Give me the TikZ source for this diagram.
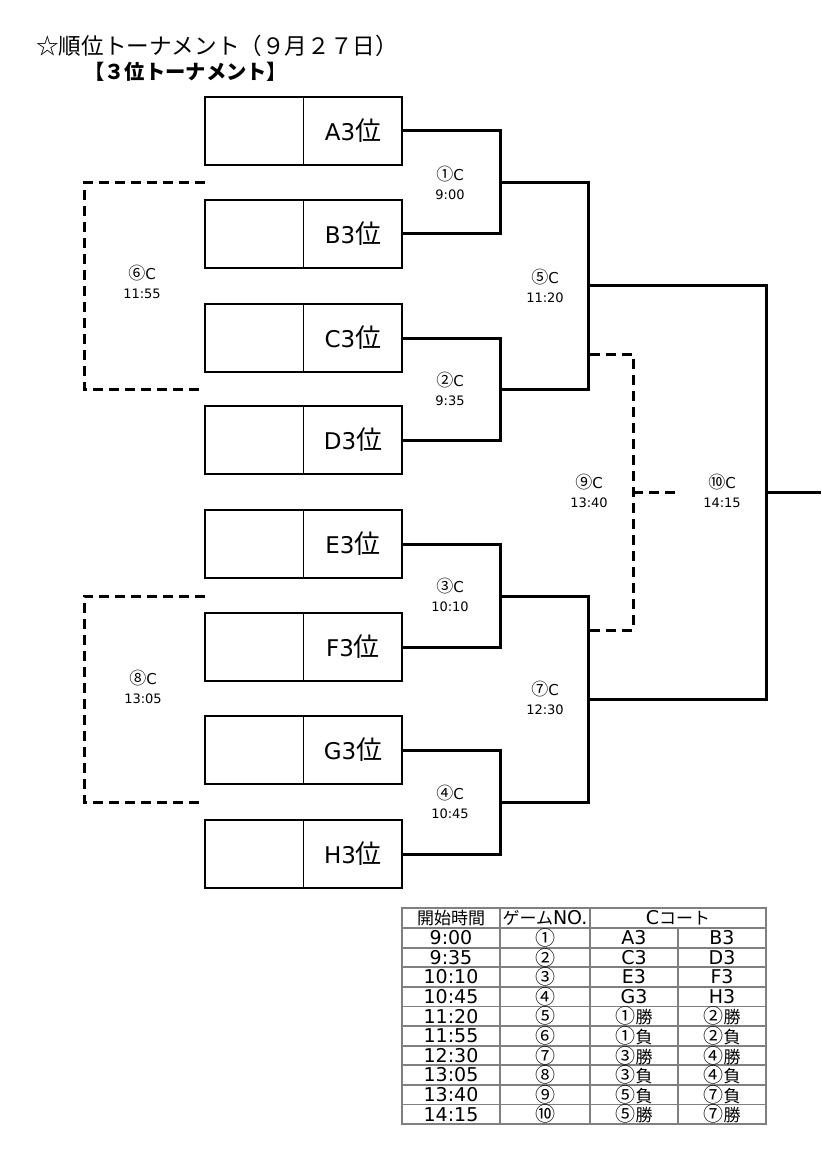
\documentclass[tikz,border=0pt]{standalone}
\usepackage{fontspec}
\setmainfont{DejaVu Sans}
\newfontfamily\jp{Noto Sans CJK JP}
\begin{document}
\begin{tikzpicture}[x=1pt,y=-1pt,
  team/.style={draw,line width=1.6pt,minimum width=197pt,minimum height=68pt,inner sep=0pt},
  teamlbl/.style={font=\fontsize{23}{26}\selectfont,inner sep=0pt},
  bracket/.style={line width=3pt},
  dashline/.style={line width=3pt,dash pattern=on 10pt off 6pt},
  glabel/.style={font=\fontsize{13}{19}\selectfont,align=center,inner sep=0pt},
  tline/.style={draw=gray,line width=1.8pt},
  ttext/.style={font=\fontsize{19}{20}\selectfont,inner sep=0pt}]
\newcommand\jpt{\jp\fontsize{17}{18}\selectfont}
\newcommand\tcirc[1]{{\jp\fontsize{20}{18}\selectfont #1}}
\newcommand\gcirc[1]{{\jp\fontsize{17}{16}\selectfont #1}{\fontsize{15}{16}\selectfont C}}
\useasboundingbox (0,0) rectangle (821,1155);
% title
\node[anchor=west,font=\jp\fontsize{22.6}{24}\selectfont,inner sep=0pt] (title) at (36,46) {☆順位トーナメント（９月２７日）};
\node[anchor=west,font=\jp\fontsize{20.3}{22}\selectfont\bfseries,inner sep=0pt] (subtitle) at (84,72) {【３位トーナメント】};
% team boxes
\foreach \n/\y in {A/131,B/234,C/338,D/440,E/544,F/647,G/750,H/854} {
  \node[team] (\n) at (303.5,\y) {};
  \draw[line width=1.6pt] (\n.north) -- (\n.south);
  \node[teamlbl] (\n l) at (353,\y) {\n3{\jp\fontsize{26}{26}\selectfont 位}};
}
% junctions
\coordinate (g1) at (500,183);
\coordinate (g2) at (500,389);
\coordinate (g3) at (500,596);
\coordinate (g4) at (500,802);
\coordinate (g5) at (588,286);
\coordinate (g7) at (588,699);
\coordinate (g10) at (766,492);
\coordinate (out) at (821,492);
\draw[bracket] (A.east) -| (g1) |- (B.east);
\draw[bracket] (C.east) -| (g2) |- (D.east);
\draw[bracket] (E.east) -| (g3) |- (F.east);
\draw[bracket] (G.east) -| (g4) |- (H.east);
\draw[bracket] (g1) -| (g5) |- (g2);
\draw[bracket] (g3) -| (g7) |- (g4);
\draw[bracket] (g5) -| (g10) |- (g7);
\draw[bracket] (g10) -- (out);
% dashed losers' games
\coordinate (l9a) at (590,354);
\coordinate (l9b) at (590,630);
\coordinate (g9) at (633,492);
\coordinate (g9e) at (677,492);
\draw[dashline] (l9a) -| (g9) |- (l9b);
\draw[dashline] (g9) -- (g9e);
\coordinate (l6a) at (205,183);
\coordinate (l6b) at (205,389);
\coordinate (g6) at (84,286);
\draw[dashline] (l6a) -| (g6) |- (l6b);
\coordinate (l8a) at (205,596);
\coordinate (l8b) at (205,802);
\coordinate (g8) at (84,699);
\draw[dashline] (l8a) -| (g8) |- (l8b);
% game labels
\node[glabel] (t1) at (450,183) {\gcirc{①}\\9:00};
\node[glabel] (t2) at (450,389) {\gcirc{②}\\9:35};
\node[glabel] (t3) at (450,595) {\gcirc{③}\\10:10};
\node[glabel] (t4) at (450,802) {\gcirc{④}\\10:45};
\node[glabel] (t5) at (545,286) {\gcirc{⑤}\\11:20};
\node[glabel] (t6) at (142,282) {\gcirc{⑥}\\11:55};
\node[glabel] (t7) at (545,698) {\gcirc{⑦}\\12:30};
\node[glabel] (t8) at (143,687) {\gcirc{⑧}\\13:05};
\node[glabel] (t9) at (589,491) {\gcirc{⑨}\\13:40};
\node[glabel] (t10) at (722,491) {\gcirc{⑩}\\14:15};
% table
\draw[tline] (402,908) rectangle (766,1124);
\foreach \y in {928,947.6,967.2,986.8,1006.4,1026,1045.6,1065.2,1084.8,1104.4} \draw[tline] (402,\y) -- (766,\y);
\draw[tline] (500,908) -- (500,1124);
\draw[tline] (590,908) -- (590,1124);
\draw[tline] (678,928) -- (678,1124);
\node[ttext] (h1) at (451,918) {\jpt 開始時間};
\node[ttext] (h2) at (545,918) {{\jpt ゲーム}NO.};
\node[ttext] (h3) at (678,918) {C{\jpt コート}};
\foreach \t/\g/\a/\b [count=\i] in {9:00/①/A3/B3,9:35/②/C3/D3,10:10/③/E3/F3,10:45/④/G3/H3,11:20/⑤/\tcirc{①}\jpt 勝/\tcirc{②}\jpt 勝,11:55/⑥/\tcirc{①}\jpt 負/\tcirc{②}\jpt 負,12:30/⑦/\tcirc{③}\jpt 勝/\tcirc{④}\jpt 勝,13:05/⑧/\tcirc{③}\jpt 負/\tcirc{④}\jpt 負,13:40/⑨/\tcirc{⑤}\jpt 負/\tcirc{⑦}\jpt 負,14:15/⑩/\tcirc{⑤}\jpt 勝/\tcirc{⑦}\jpt 勝} {
  \pgfmathsetmacro{\yy}{928+19.6*(\i-0.5)}
  \node[ttext] (r\i a) at (451,\yy) {\t};
  \node[ttext] (r\i b) at (545,\yy) {\tcirc{\g}};
  \node[ttext] (r\i c) at (634,\yy) {\a};
  \node[ttext] (r\i d) at (722,\yy) {\b};
}
\end{tikzpicture}
\end{document}
